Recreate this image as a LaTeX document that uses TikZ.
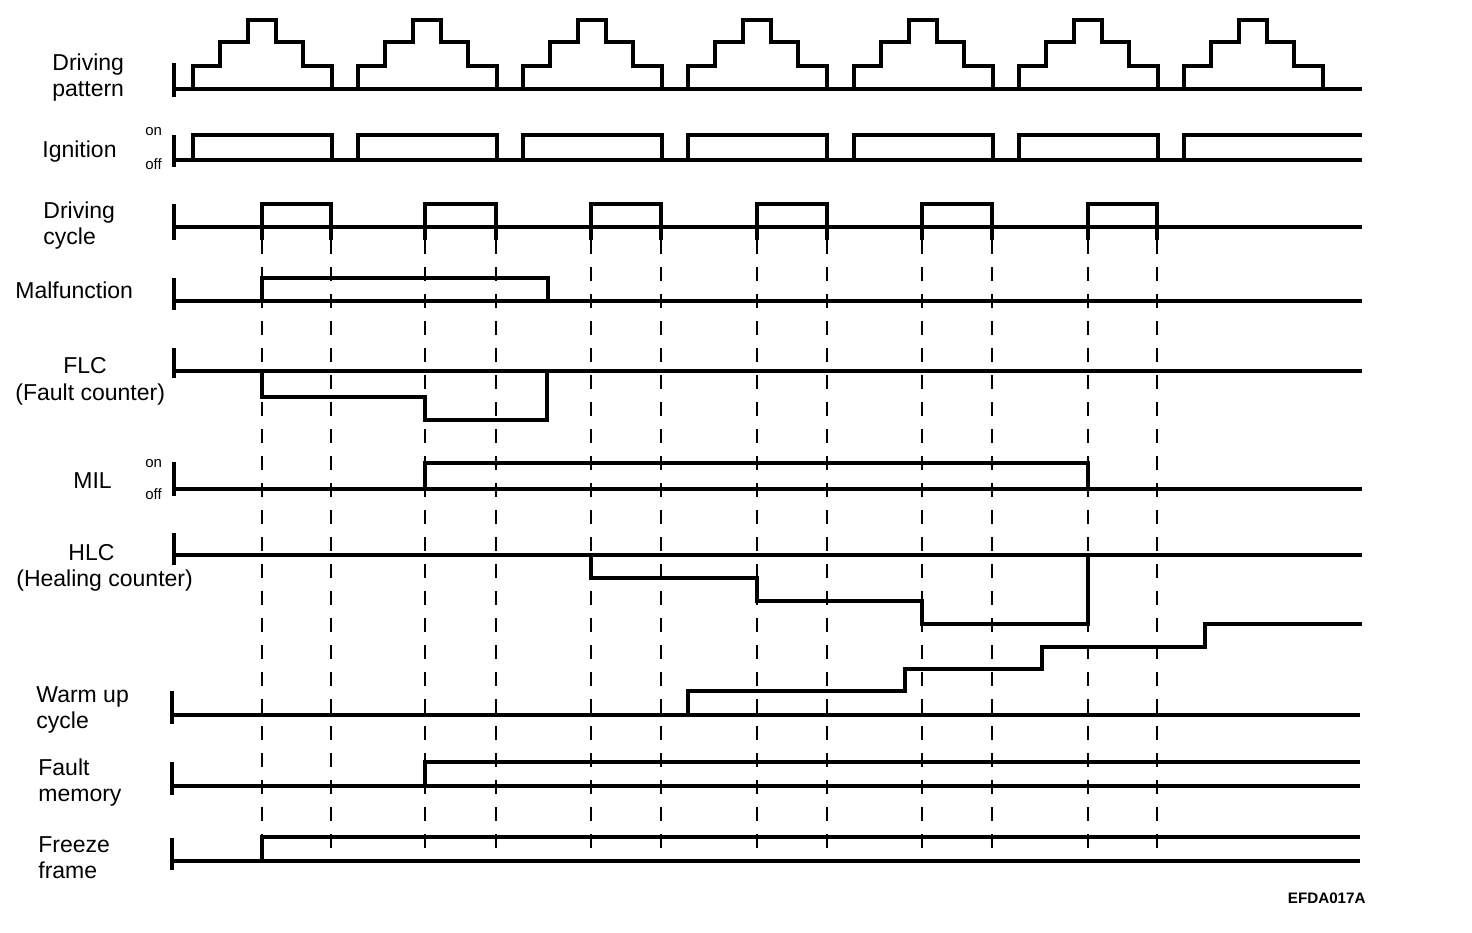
\documentclass[tikz,border=0pt]{standalone}
\usepackage{fontspec}
\setmainfont{Liberation Sans}
\begin{document}
\begin{tikzpicture}[x=0.5pt,y=-0.5pt,
  sig/.style={line width=1.6pt, line join=miter},
  axistick/.style={line width=2pt},
  guide/.style={line width=1.3pt, dash pattern=on 7pt off 6.5pt},
  lbl/.style={anchor=base west, inner sep=0pt, font=\fontsize{11.5}{13}\selectfont},
  sm/.style={anchor=base west, inner sep=0pt, font=\fontsize{7.5}{9}\selectfont}]
\useasboundingbox (0,0) rectangle (1472,932);

% ---------- labels ----------
\node[lbl] (dp1) at (52,70) {Driving};
\node[lbl] (dp2) at (52,96) {pattern};
\node[lbl] (ign) at (42,157) {Ignition};
\node[sm] (ignon) at (145,135) {on};
\node[sm] (ignoff) at (145,169) {off};
\node[lbl] (dc1) at (43,218) {Driving};
\node[lbl] (dc2) at (43,244) {cycle};
\node[lbl] (mal) at (15,298) {Malfunction};
\node[lbl] (flc1) at (63,373) {FLC};
\node[lbl] (flc2) at (15,400) {(Fault counter)};
\node[lbl] (mil) at (73,488) {MIL};
\node[sm] (milon) at (145,467) {on};
\node[sm] (miloff) at (145,499) {off};
\node[lbl] (hlc1) at (68,560) {HLC};
\node[lbl] (hlc2) at (16,586) {(Healing counter)};
\node[lbl] (wu1) at (36,702) {Warm up};
\node[lbl] (wu2) at (36,728) {cycle};
\node[lbl] (fm1) at (38,775) {Fault};
\node[lbl] (fm2) at (38,801) {memory};
\node[lbl] (ff1) at (38,852) {Freeze};
\node[lbl] (ff2) at (38,878) {frame};
\node[anchor=base east, inner sep=0pt, font=\fontsize{7.6}{9}\selectfont\bfseries] (code) at (1366,903) {EFDA017A};

% ---------- dashed guide lines ----------
\foreach \x in {262,331,425,496,591,661,757,827,922,992,1088,1157}
  \draw[guide] (\x,240) -- (\x,860);

% ---------- left ticks ----------
\draw[axistick] (174,63) -- (174,97);
\draw[axistick] (174,135) -- (174,167);
\draw[axistick] (174,204) -- (174,240);
\draw[axistick] (174,278) -- (174,310);
\draw[axistick] (174,348) -- (174,378);
\draw[axistick] (174,462) -- (174,496);
\draw[axistick] (174,533) -- (174,565);
\draw[axistick] (172,691) -- (172,724);
\draw[axistick] (172,762) -- (172,795);
\draw[axistick] (172,838) -- (172,870);

% ---------- driving pattern ----------
\draw[sig] (174,89) -- (1362,89);
\foreach \r in {193,358,523,688,854,1019,1184}
  \draw[sig] (\r,89) -- (\r,66) -- (\r+27,66) -- (\r+27,42) -- (\r+55,42) -- (\r+55,20)
    -- (\r+83,20) -- (\r+83,42) -- (\r+110,42) -- (\r+110,66) -- (\r+139,66) -- (\r+139,89);

% ---------- ignition ----------
\draw[sig] (174,160) -- (1362,160);
\foreach \r in {193,358,523,688,854,1019}
  \draw[sig] (\r,160) -- (\r,135) -- (\r+139,135) -- (\r+139,160);
\draw[sig] (1184,160) -- (1184,135) -- (1362,135);

% ---------- driving cycle ----------
\draw[sig] (174,227) -- (1362,227);
\foreach \a/\b in {262/331,425/496,591/661,757/827,922/992,1088/1157}
  \draw[sig] (\a,240) -- (\a,204) -- (\b,204) -- (\b,240);

% ---------- malfunction ----------
\draw[sig] (174,301) -- (1362,301);
\draw[sig] (262,301) -- (262,278) -- (548,278) -- (548,301);

% ---------- FLC ----------
\draw[sig] (174,371) -- (1362,371);
\draw[sig] (262,371) -- (262,397) -- (425,397) -- (425,420) -- (547,420) -- (547,371);

% ---------- MIL ----------
\draw[sig] (174,489) -- (1362,489);
\draw[sig] (425,489) -- (425,463) -- (1088,463) -- (1088,489);

% ---------- HLC ----------
\draw[sig] (174,555) -- (1362,555);
\draw[sig] (591,555) -- (591,578) -- (757,578) -- (757,601) -- (922,601) -- (922,624)
  -- (1088,624) -- (1088,555);

% ---------- warm up cycle ----------
\draw[sig] (172,715) -- (1360,715);
\draw[sig] (688,715) -- (688,691) -- (905,691) -- (905,669) -- (1042,669) -- (1042,647)
  -- (1205,647) -- (1205,624) -- (1362,624);

% ---------- fault memory ----------
\draw[sig] (172,786) -- (1360,786);
\draw[sig] (425,786) -- (425,762) -- (1360,762);

% ---------- freeze frame ----------
\draw[sig] (172,861) -- (1360,861);
\draw[sig] (262,861) -- (262,837) -- (1360,837);
\end{tikzpicture}
\end{document}
